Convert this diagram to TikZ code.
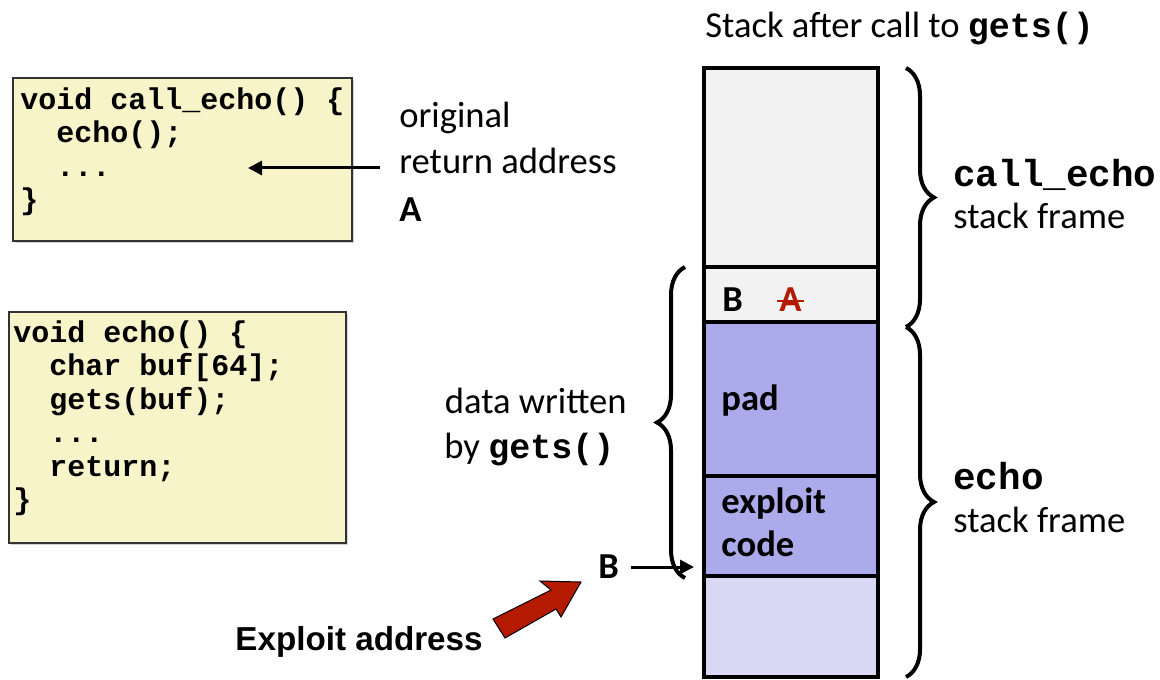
\documentclass[tikz,border=0pt]{standalone}
\usepackage{fontspec}
\setmainfont{Carlito}
\setmonofont{Liberation Mono}
\newfontfamily\arialfont{Liberation Sans}
\usetikzlibrary{decorations.pathreplacing,shadows,arrows.meta}
\definecolor{codebg}{RGB}{246,244,200}
\definecolor{cellgray}{RGB}{242,242,242}
\definecolor{padblue}{RGB}{171,171,235}
\definecolor{lowblue}{RGB}{216,216,245}
\definecolor{exred}{RGB}{180,26,0}
\newcommand\calf{\fontsize{18.3}{21}\selectfont}
\newcommand\codef{\fontsize{15}{16.75}\selectfont\ttfamily\bfseries}
\newcommand\monob{\ttfamily\bfseries}
\begin{document}
\begin{tikzpicture}[x=0.5pt,y=-0.5pt,
  codebox/.style={draw=black!80, line width=0.8pt, fill=codebg,
    drop shadow={shadow xshift=1.2pt, shadow yshift=-1.2pt, opacity=0.35}},
  codetext/.style={anchor=north west, inner sep=0pt, align=left, font=\codef},
  cell/.style={draw, line width=2pt, inner sep=0pt, outer sep=0pt, anchor=north west, minimum width=87pt},
  lbl/.style={inner sep=0pt, anchor=base west, font=\calf},
  lblb/.style={inner sep=0pt, anchor=base west, font=\calf\bfseries},
  brc/.style={decorate, decoration={brace, amplitude=14pt}, line width=2pt},
  arr/.style={-{Triangle[length=7pt,width=7pt]}, line width=1.5pt}
]
\useasboundingbox (0,0) rectangle (1160,679);

% code boxes
\path[codebox] (13,78) rectangle (352,241);
\node[codetext] (code1) at (20,87) {void call\_echo() \{\\
\ \ echo();\\
\ \ ...\\
\}};
\path[codebox] (9,312) rectangle (346,543);
\node[codetext] (code2) at (13,320) {void echo() \{\\
\ \ char buf[64];\\
\ \ gets(buf);\\
\ \ ...\\
\ \ return;\\
\}};

% return address label
\node[lbl] (orig) at (399,128) {original};
\node[lbl] (retaddr) at (399,174) {return address};
\node[lblb] (labA) at (399,221) {A};
\coordinate (retstart) at (380,168);
\coordinate (retend) at (248,168);
\draw[arr] (retstart) -- (retend);

% title
\node[lbl] (title) at (705,38) {Stack after call to {\fontsize{17.5}{21}\selectfont\monob gets()}};

% stack cells
\node[cell, fill=cellgray, minimum height=99.5pt] (top) at (704,68) {};
\node[cell, fill=cellgray, minimum height=27.5pt] (ba) at (704,267) {};
\node[cell, fill=padblue, minimum height=77pt] (pad) at (704,322) {};
\node[cell, fill=padblue, minimum height=50pt] (expl) at (704,476) {};
\node[cell, fill=lowblue, minimum height=50.5pt] (low) at (704,576) {};

\node[lblb] (cellB) at (722,311) {B};
\node[lblb, text=exred] (cellA) at (779,311) {A};
\draw[exred, line width=1.3pt] ([xshift=-1pt]cellA.west |- 0,301) -- ([xshift=1pt]cellA.east |- 0,301);
\node[lblb] (padtxt) at (721,410) {pad};
\node[lblb] (expltxt) at (721,513) {exploit};
\node[lblb] (codetxt) at (721,556) {code};

% right braces
\draw[brc] (906,68) -- (906,327);
\draw[brc] (906,327) -- (906,677);
\node[lbl, font=\fontsize{18.8}{21}\selectfont\monob] (ce) at (953,187) {call\_echo};
\node[lbl] (sf1) at (953,228) {stack frame};
\node[lbl, font=\fontsize{18.8}{21}\selectfont\monob] (ec) at (953,489) {echo};
\node[lbl] (sf2) at (953,532) {stack frame};

% left brace
\draw[brc] (685,578) -- (685,267);
\node[lbl, anchor=base east] (dw) at (627,413) {data written};
\node[lbl] (byg) at (444,458) {by {\fontsize{17.5}{21}\selectfont\monob gets()}};

% B arrow
\node[lblb] (ptB) at (598,578) {B};
\coordinate (bend) at (694,567);
\coordinate (bstart) at (631,567);
\draw[arr] (bstart) -- (bend);

% exploit address
\node[inner sep=0pt, anchor=base west, font=\fontsize{16.6}{20}\selectfont\arialfont\bfseries] (exaddr) at (235,650) {Exploit address};
\fill[exred, draw=black, line width=0.5pt]
  (493,619) -- (551,590) -- (540,581) -- (581,582) -- (561,617) -- (556,609) -- (505,638) -- cycle;
\end{tikzpicture}
\end{document}
